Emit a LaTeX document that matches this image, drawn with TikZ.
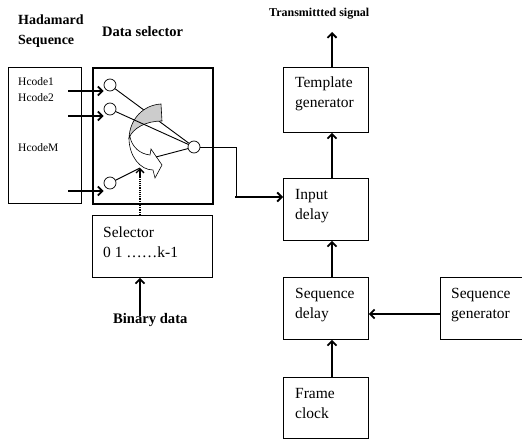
\documentclass[tikz,border=0pt]{standalone}
\usepackage{fontspec}
\setmainfont{Liberation Serif}
\usetikzlibrary{arrows.meta}
\begin{document}
\begin{tikzpicture}[x=1pt,y=-1pt,
  box/.style={draw, line width=0.8pt, inner sep=0, anchor=north west},
  txt/.style={font=\fontsize{15.5}{20}\selectfont, anchor=base west, inner sep=0},
  hc/.style={font=\fontsize{11.5}{14}\selectfont, anchor=base west, inner sep=0},
  hd/.style={font=\fontsize{14}{17}\selectfont\bfseries, anchor=base west, inner sep=0},
  arr/.style={line width=1.8pt, -{Straight Barb[length=4.5pt,width=9pt]}},
  port/.style={circle, draw, line width=0.7pt, minimum size=12pt, inner sep=0},
  wire/.style={line width=0.9pt},
]
\useasboundingbox (0,0) rectangle (522,441);

% boxes
\node[box, minimum width=73pt, minimum height=136pt] (had) at (8,67) {};
\node[box, line width=2pt, minimum width=120pt, minimum height=136pt] (dsel) at (92,67) {};
\node[box, minimum width=120pt, minimum height=62pt] (sel) at (92,215) {};
\node[box, minimum width=85pt, minimum height=65pt] (tmpl) at (283,67) {};
\node[box, minimum width=85pt, minimum height=62pt] (inp) at (283,178) {};
\node[box, minimum width=85pt, minimum height=62pt] (sdel) at (283,277) {};
\node[box, minimum width=85pt, minimum height=61pt] (frm) at (283,377) {};
\node[box, minimum width=81.5pt, minimum height=62pt] (sgen) at (440,277) {};

% headings
\node[hd] (hadA) at (18,25) {Hadamard};
\node[hd] (hadB) at (18,45) {Sequence};
\node[hd, font=\fontsize{14.5}{17}\selectfont\bfseries] (dsl) at (102,37) {Data selector};
\node[hd, font=\fontsize{12}{14}\selectfont\bfseries] (tsig) at (269,17) {Transmittted signal};
\node[hd, font=\fontsize{14.6}{17}\selectfont\bfseries] (bin) at (113,323) {Binary data};

% Hcode labels
\node[hc] (h1) at (18,86) {Hcode1};
\node[hc] (h2) at (18,102) {Hcode2};
\node[hc] (hm) at (18,152) {HcodeM};

% box texts
\node[txt] (selA) at (103,237) {Selector};
\node[txt] (selB) at (103,257) {0 1 ……k-1};
\node[txt] (tmA) at (295,88) {Template};
\node[txt] (tmB) at (295,108) {generator};
\node[txt] (inA) at (295,199) {Input};
\node[txt] (inB) at (295,219) {delay};
\node[txt] (sdA) at (295,298) {Sequence};
\node[txt] (sdB) at (295,318) {delay};
\node[txt] (frA) at (295,398) {Frame};
\node[txt] (frB) at (295,418) {clock};
\node[txt] (sgA) at (451,298) {Sequence};
\node[txt] (sgB) at (451,318) {generator};

% ports
\node[port] (c1) at (110,85) {};
\node[port] (c2) at (110,109) {};
\node[port] (c3) at (110,183) {};
\node[port] (oc) at (194,147) {};

% Hcode input arrows
\coordinate (s1) at (68,91);
\coordinate (s2) at (68,116);
\coordinate (s3) at (68,191);
\draw[arr] (s1) -- (c1.west |- s1);
\draw[arr] (s2) -- (c2.west |- s2);
\draw[arr] (s3) -- (c3.west |- s3);

% selector internals
\draw[wire] (c1) -- (oc);
\draw[line width=0.6pt, fill=white]
  (129,138) .. controls (129,156) and (140,170) .. (153,170)
  -- (155,178) -- (162,165) -- (151,149) -- (150,155)
  .. controls (140,154) and (132,147) .. (130,137) -- cycle;
\draw[line width=0.6pt, fill=gray!40]
  (161,104) .. controls (144,105) and (130,118) .. (129,138)
  .. controls (133,128) and (146,121) .. (162,121) -- cycle;
\draw[wire] (c2) -- (oc);
\coordinate (j3) at (140,168);
\coordinate (j3b) at (140,178);
\coordinate (j4) at (156,157);
\draw[wire] (c3) -- (j3);
\draw[wire] (j4) -- (oc);
\draw[line width=1.2pt, densely dotted] (sel.north -| j3) -- (j3b);
\draw[line width=1.4pt, -{Straight Barb[length=4pt,width=8pt]}] (j3b) -- (j3);
\coordinate (bs) at (140,316);
\draw[arr] (bs) -- (sel.south -| bs);

% output path
\coordinate (b1) at (236,147);
\coordinate (b2) at (236,197);
\draw[wire] (oc.east) -- (b1) -- (b2);
\draw[arr] ([xshift=-0.9pt]b2) -- (inp.west |- b2);

% right column
\coordinate (ax) at (332,0);
\coordinate (tt) at (332,32);
\coordinate (ay) at (0,314);
\draw[arr] (tmpl.north -| ax) -- (tt);
\draw[arr] (inp.north -| ax) -- (tmpl.south -| ax);
\draw[arr] (sdel.north -| ax) -- (inp.south -| ax);
\draw[arr] (frm.north -| ax) -- (sdel.south -| ax);
\draw[arr] (sgen.west |- ay) -- (sdel.east |- ay);
\end{tikzpicture}
\end{document}
